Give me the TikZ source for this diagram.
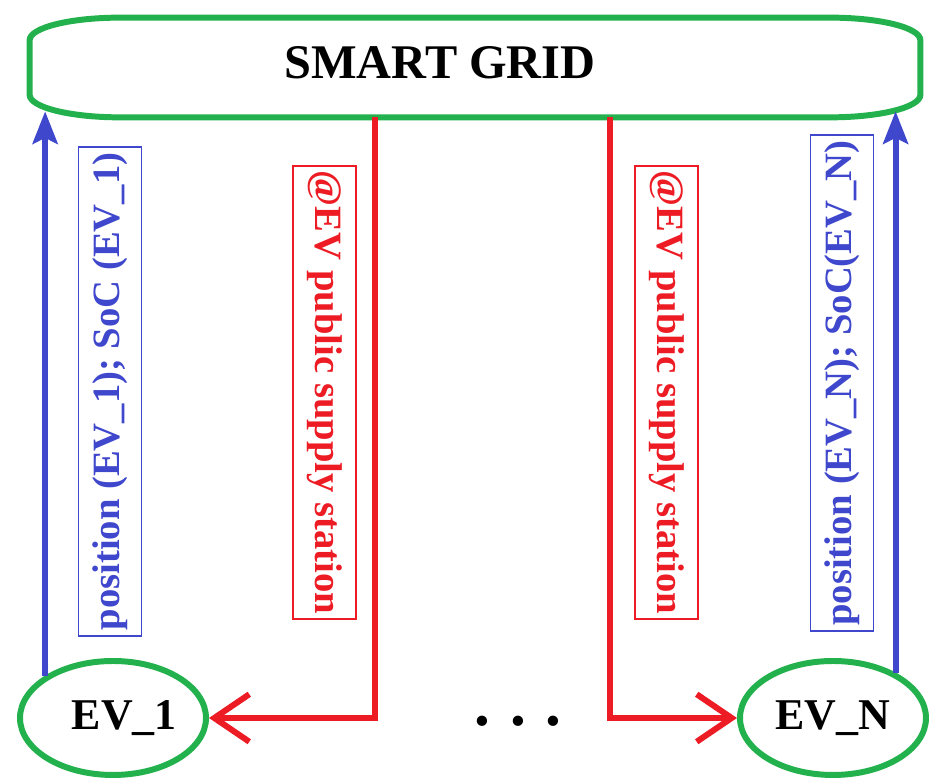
\documentclass[tikz,border=0pt]{standalone}
\usepackage{fontspec}
\setmainfont{Liberation Serif}
\usetikzlibrary{positioning, shapes.geometric, arrows.meta, calc}

\definecolor{gridgreen}{RGB}{34,177,76}
\definecolor{supplyred}{RGB}{237,28,36}
\definecolor{reportblue}{RGB}{63,72,204}

\begin{document}
\begin{tikzpicture}[
	% Define styles for the blocks
	gridbox/.style={
		rectangle,
		minimum width=17.8cm,
		minimum height=1.98cm,
		inner sep=0pt
	},
	gridline/.style={
		draw=gridgreen,
		line width=3.4pt
	},
	ev/.style={
		ellipse,
		draw=gridgreen,
		line width=3.4pt,
		minimum width=3.72cm,
		minimum height=2.28cm,
		inner sep=0pt,
		font=\fontsize{25}{28}\selectfont\bfseries
	},
	supply/.style={
		draw=supplyred,
		line width=3.4pt,
		-{Straight Barb[length=0.7cm, width=0.95cm]}
	},
	report/.style={
		draw=reportblue,
		line width=3.4pt,
		-{Stealth[length=0.65cm, width=0.5cm, inset=0.12cm]}
	},
	info_text/.style={
		draw,
		line width=1pt,
		inner xsep=3pt,
		inner ysep=8pt,
		font=\fontsize{22}{24}\selectfont\bfseries
	}
	]
	\useasboundingbox (0,0) rectangle (18.78,15.62);
	
	% --- 1. SMART GRID ---
	\node[gridbox] (grid) at (9.5,14.27) {};
	\draw[gridline] ([xshift=1.8cm]grid.north west) -- ([xshift=-1.8cm]grid.north east)
	arc[start angle=90, end angle=0, x radius=1.8cm, y radius=0.45cm]
	-- ([yshift=0.45cm]grid.south east)
	arc[start angle=0, end angle=-90, x radius=1.8cm, y radius=0.45cm]
	-- ([xshift=1.8cm]grid.south west)
	arc[start angle=270, end angle=180, x radius=1.8cm, y radius=0.45cm]
	-- ([yshift=-0.45cm]grid.north west)
	arc[start angle=180, end angle=90, x radius=1.8cm, y radius=0.45cm] -- cycle;
	\node[font=\fontsize{27.5}{30}\selectfont\bfseries] (title) at ([xshift=-0.7cm, yshift=0.1cm]grid.center) {SMART GRID};
	
	% --- 2. VEHICLES ---
	\node[ev] (ev1) at (2.26,1.26) {\hspace{0.45cm}EV\_1};
	\node[ev] (evn) at (16.66,1.26) {EV\_N};
	\node[font=\fontsize{36}{38}\selectfont\bfseries] (dots) at (10.36,1.2) {.\hspace{0.4cm}.\hspace{0.4cm}.};
	
	% --- 3. REPORTS (EV -> grid) ---
	\draw[report] (ev1.148) -- ([yshift=0.12cm]ev1.148 |- grid.south);
	\draw[report] (evn.36) -- ([yshift=0.12cm]evn.36 |- grid.south);
	\node[info_text, reportblue, rotate=90] (pos1) at (2.2,7.79) {position (EV\_1); SoC (EV\_1)};
	\node[info_text, reportblue, rotate=90] (posn) at (16.84,7.96) {position (EV\_N); SoC(EV\_N)};
	
	% --- 4. SUPPLY STATIONS (grid -> EV) ---
	\draw[supply] ([xshift=-2cm]grid.south) |- (ev1);
	\draw[supply] ([xshift=2.7cm]grid.south) |- (evn);
	\node[info_text, supplyred, rotate=-90] (station1) at (6.49,7.77) {@EV public supply station};
	\node[info_text, supplyred, rotate=-90] (stationn) at (13.33,7.77) {@EV public supply station};
	
\end{tikzpicture}
\end{document}
